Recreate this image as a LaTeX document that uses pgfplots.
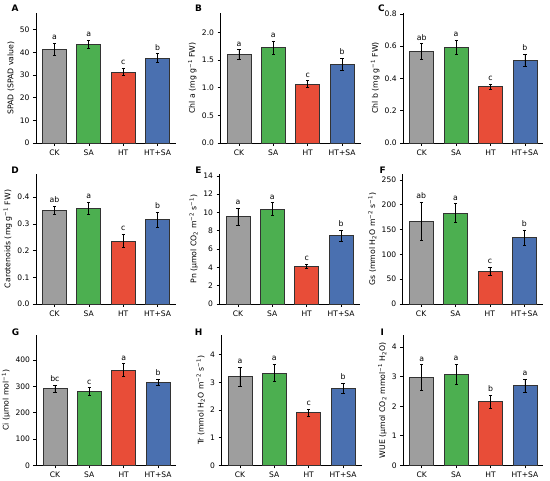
\documentclass[border=0pt]{standalone}
\usepackage{fontspec}
\setmainfont{DejaVu Sans}
\usepackage{pgfplots}
\pgfplotsset{compat=1.18}
\definecolor{cgray}{HTML}{9E9E9E}
\definecolor{cgreen}{HTML}{4CAF50}
\definecolor{cred}{HTML}{E84D38}
\definecolor{cblue}{HTML}{4A70B0}
\definecolor{edge}{HTML}{333333}
\newcommand\m{\textsuperscript{−1}}
\newcommand\mm{\textsuperscript{−2}}
\pgfplotsset{
  panel/.style={
    scale only axis, width=140bp, height=130bp, anchor=south west,
    xmin=-0.535, xmax=3.535, ymin=0, clip=false,
    axis x line=bottom, axis y line=left, axis line style={-, line width=0.7bp, black},
    xtick={0,1,2,3}, xticklabels={CK,SA,HT,HT+SA},
    tick align=outside, major tick length=3bp, tick style={line width=0.6bp, black},
    ybar, bar width=0.7, bar shift=0pt,
    ticklabel style={font=\fontsize{7.6}{9}\selectfont},
    /pgf/number format/assume math mode=true,
    y tick label style={/pgf/number format/fixed},
    ylabel style={font=\fontsize{7.8}{9}\selectfont, yshift=-1.5bp},
    every axis plot/.append style={draw=edge, line width=0.7bp},
    error bars/y dir=both, error bars/y explicit,
    error bars/error bar style={line width=0.7bp, black},
    error bars/error mark options={rotate=90, mark size=1.6bp, line width=0.7bp, black},
  },
  onedec/.style={y tick label style={/pgf/number format/.cd, fixed, fixed zerofill, precision=1}},
}
\tikzset{
  lett/.style={anchor=base, yshift=3.5bp, font=\fontsize{7.8}{9}\selectfont, inner sep=0pt},
  plab/.style={font=\bfseries\fontsize{9}{10}\selectfont, anchor=center},
}
\begin{document}
\begin{tikzpicture}
\useasboundingbox (0,0) rectangle (550bp,481bp);
% A
\begin{axis}[panel, at={(36bp,338bp)}, ymax=57.3, ytick={0,10,20,30,40,50}, ylabel={SPAD (SPAD value)}]
\addplot[fill=cgray] coordinates {(0,41.3) +- (0,2.7)};
\addplot[fill=cgreen] coordinates {(1,43.5) +- (0,1.8)};
\addplot[fill=cred] coordinates {(2,31.3) +- (0,1.7)};
\addplot[fill=cblue] coordinates {(3,37.4) +- (0,2.0)};
\node[lett] at (axis cs:0,44.0) {a};
\node[lett] at (axis cs:1,45.3) {a};
\node[lett] at (axis cs:2,33.0) {c};
\node[lett] at (axis cs:3,39.4) {b};
\node[plab] at (rel axis cs:0,1) [xshift=-21bp, yshift=5bp] {A};
\end{axis}
% B
\begin{axis}[panel, onedec, at={(220.5bp,338bp)}, ymax=2.35, ytick={0,0.5,1,1.5,2}, ylabel={Chl a (mg g\m{} FW)}]
\addplot[fill=cgray] coordinates {(0,1.594) +- (0,0.09)};
\addplot[fill=cgreen] coordinates {(1,1.725) +- (0,0.12)};
\addplot[fill=cred] coordinates {(2,1.069) +- (0,0.055)};
\addplot[fill=cblue] coordinates {(3,1.427) +- (0,0.105)};
\node[lett] at (axis cs:0,1.684) {a};
\node[lett] at (axis cs:1,1.845) {a};
\node[lett] at (axis cs:2,1.124) {c};
\node[lett] at (axis cs:3,1.532) {b};
\node[plab] at (rel axis cs:0,1) [xshift=-22bp, yshift=5bp] {B};
\end{axis}
% C
\begin{axis}[panel, onedec, at={(403.3bp,338bp)}, ymax=0.805, ytick={0,0.2,0.4,0.6,0.8}, ylabel={Chl b (mg g\m{} FW)}]
\addplot[fill=cgray] coordinates {(0,0.566) +- (0,0.05)};
\addplot[fill=cgreen] coordinates {(1,0.593) +- (0,0.042)};
\addplot[fill=cred] coordinates {(2,0.348) +- (0,0.018)};
\addplot[fill=cblue] coordinates {(3,0.514) +- (0,0.037)};
\node[lett] at (axis cs:0,0.616) {ab};
\node[lett] at (axis cs:1,0.635) {a};
\node[lett] at (axis cs:2,0.366) {c};
\node[lett] at (axis cs:3,0.551) {b};
\node[plab] at (rel axis cs:0,1) [xshift=-22bp, yshift=5bp] {C};
\end{axis}
% D
\begin{axis}[panel, onedec, at={(36bp,177bp)}, ymax=0.487, ytick={0,0.1,0.2,0.3,0.4}, ylabel={Carotenoids (mg g\m{} FW)}]
\addplot[fill=cgray] coordinates {(0,0.350) +- (0,0.016)};
\addplot[fill=cgreen] coordinates {(1,0.358) +- (0,0.023)};
\addplot[fill=cred] coordinates {(2,0.236) +- (0,0.025)};
\addplot[fill=cblue] coordinates {(3,0.317) +- (0,0.028)};
\node[lett] at (axis cs:0,0.366) {ab};
\node[lett] at (axis cs:1,0.381) {a};
\node[lett] at (axis cs:2,0.261) {c};
\node[lett] at (axis cs:3,0.345) {b};
\node[plab] at (rel axis cs:0,1) [xshift=-21bp, yshift=4bp] {D};
\end{axis}
% E
\begin{axis}[panel, at={(219.5bp,177bp)}, ymax=14.2, ytick={0,2,4,6,8,10,12,14}, ylabel={Pn (μmol CO\textsubscript{2} m\mm{} s\m)}]
\addplot[fill=cgray] coordinates {(0,9.52) +- (0,0.95)};
\addplot[fill=cgreen] coordinates {(1,10.35) +- (0,0.7)};
\addplot[fill=cred] coordinates {(2,4.09) +- (0,0.23)};
\addplot[fill=cblue] coordinates {(3,7.45) +- (0,0.58)};
\node[lett] at (axis cs:0,10.47) {a};
\node[lett] at (axis cs:1,11.05) {a};
\node[lett] at (axis cs:2,4.32) {c};
\node[lett] at (axis cs:3,8.03) {b};
\node[plab] at (rel axis cs:0,1) [xshift=-21bp, yshift=4bp] {E};
\end{axis}
% F
\begin{axis}[panel, at={(402.7bp,177bp)}, ymax=262, ytick={0,50,100,150,200,250}, ylabel={Gs (mmol H\textsubscript{2}O m\mm{} s\m)}]
\addplot[fill=cgray] coordinates {(0,166.7) +- (0,39)};
\addplot[fill=cgreen] coordinates {(1,183.5) +- (0,18.5)};
\addplot[fill=cred] coordinates {(2,65.9) +- (0,8.7)};
\addplot[fill=cblue] coordinates {(3,133.7) +- (0,15.5)};
\node[lett] at (axis cs:0,205.7) {ab};
\node[lett] at (axis cs:1,202.0) {a};
\node[lett] at (axis cs:2,74.6) {c};
\node[lett] at (axis cs:3,149.2) {b};
\node[plab] at (rel axis cs:0,1) [xshift=-20bp, yshift=4bp] {F};
\end{axis}
% G
\begin{axis}[panel, at={(36.5bp,15.7bp)}, ymax=494, ytick={0,100,200,300,400}, ylabel={Ci (μmol mol\m)}]
\addplot[fill=cgray] coordinates {(0,290.6) +- (0,13.2)};
\addplot[fill=cgreen] coordinates {(1,279.2) +- (0,15.2)};
\addplot[fill=cred] coordinates {(2,362.3) +- (0,24)};
\addplot[fill=cblue] coordinates {(3,317) +- (0,11.3)};
\node[lett] at (axis cs:0,303.8) {bc};
\node[lett] at (axis cs:1,294.4) {c};
\node[lett] at (axis cs:2,386.3) {a};
\node[lett] at (axis cs:3,328.3) {b};
\node[plab] at (rel axis cs:0,1) [xshift=-21bp, yshift=3bp] {G};
\end{axis}
% H
\begin{axis}[panel, at={(221.5bp,15.7bp)}, ymax=4.7, ytick={0,1,2,3,4}, ylabel={Tr (mmol H\textsubscript{2}O m\mm{} s\m)}]
\addplot[fill=cgray] coordinates {(0,3.21) +- (0,0.34)};
\addplot[fill=cgreen] coordinates {(1,3.34) +- (0,0.31)};
\addplot[fill=cred] coordinates {(2,1.90) +- (0,0.13)};
\addplot[fill=cblue] coordinates {(3,2.79) +- (0,0.185)};
\node[lett] at (axis cs:0,3.55) {a};
\node[lett] at (axis cs:1,3.65) {a};
\node[lett] at (axis cs:2,2.03) {c};
\node[lett] at (axis cs:3,2.975) {b};
\node[plab] at (rel axis cs:0,1) [xshift=-23bp, yshift=3bp] {H};
\end{axis}
% I
\begin{axis}[panel, at={(403.3bp,15.7bp)}, ymax=4.4, ytick={0,1,2,3,4}, ylabel={WUE (μmol CO\textsubscript{2} mmol\m{} H\textsubscript{2}O)}]
\addplot[fill=cgray] coordinates {(0,2.98) +- (0,0.43)};
\addplot[fill=cgreen] coordinates {(1,3.08) +- (0,0.335)};
\addplot[fill=cred] coordinates {(2,2.15) +- (0,0.225)};
\addplot[fill=cblue] coordinates {(3,2.69) +- (0,0.215)};
\node[lett] at (axis cs:0,3.41) {a};
\node[lett] at (axis cs:1,3.415) {a};
\node[lett] at (axis cs:2,2.375) {b};
\node[lett] at (axis cs:3,2.905) {a};
\node[plab] at (rel axis cs:0,1) [xshift=-21bp, yshift=3bp] {I};
\end{axis}
\end{tikzpicture}
\end{document}
